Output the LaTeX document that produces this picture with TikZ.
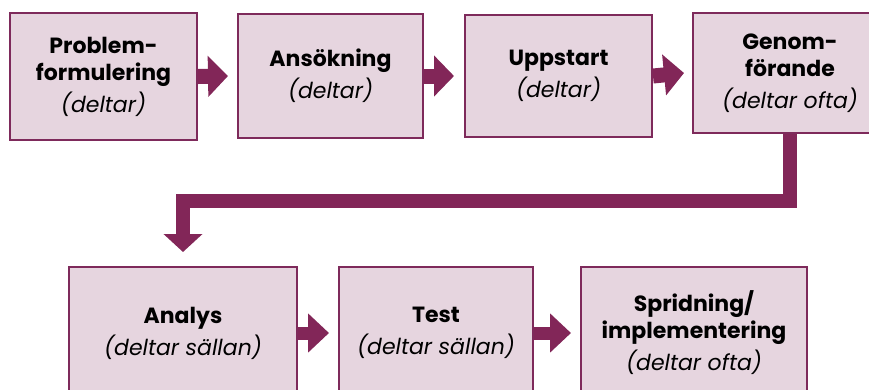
\documentclass[tikz,border=0pt]{standalone}
\usepackage{fontspec}
\setmainfont{Poppins}
\usetikzlibrary{arrows.meta}
\definecolor{boxfill}{HTML}{E6D5DF}
\definecolor{boxline}{HTML}{7E2A5B}
\definecolor{arr}{HTML}{822658}
\begin{document}
\begin{tikzpicture}[x=1pt,y=-1pt,
  stage/.style={draw=boxline, fill=boxfill, line width=2pt, align=center, inner sep=0pt,
    font=\fontsize{22}{27}\selectfont},
  flow/.style={draw=arr, line width=15pt, -{Triangle[width=40pt,length=20pt]}},
  flowb/.style={draw=arr, line width=13pt, -{Triangle[width=38pt,length=21pt]}},
]
\useasboundingbox (0,0) rectangle (869,389);
\clip (0,0) rectangle (869,389);

\node[stage, minimum width=187pt, minimum height=127pt] (b1) at (103.5,76.5)
  {\textbf{Problem-}\\\textbf{formulering}\\[5pt]\textit{(deltar)}};
\node[stage, minimum width=185pt, minimum height=124pt] (b2) at (330.5,76)
  {\textbf{Ansökning}\\[5pt]\textit{(deltar)}};
\node[stage, minimum width=187pt, minimum height=122pt] (b3) at (558.5,76)
  {\textbf{Uppstart}\\[5pt]\textit{(deltar)}};
\node[stage, minimum width=194pt, minimum height=120pt] (b4) at (790,73)
  {\textbf{Genom-}\\\textbf{förande}\\[5pt]\textit{(deltar ofta)}};
\node[stage, minimum width=228pt, minimum height=132pt] (b5) at (183,333)
  {\textbf{Analys}\\[5pt]\textit{(deltar sällan)}};
\node[stage, minimum width=194pt, minimum height=132pt] (b6) at (436,333)
  {\textbf{Test}\\[5pt]\textit{(deltar sällan)}};
\node[stage, minimum width=226pt, minimum height=132pt] (b7) at (694,333)
  {\textbf{Spridning/}\\\textbf{implementering}\\[5pt]\textit{(deltar ofta)}};

\draw[flow] (b1.east) -- ([xshift=-9pt]b2.west);
\draw[flow] (b2.east) -- ([xshift=-10pt]b3.west);
\draw[flow] (b3.east) -- ([xshift=-8pt]b4.west);
\draw[flowb] (b5.east) -- ([xshift=-9pt]b6.west);
\draw[flowb] (b6.east) -- ([xshift=-9pt]b7.west);
\draw[draw=arr, line width=14pt, -{Triangle[width=38pt,length=18pt]}]
  (b4.south) -- ++(0,67) -| ([yshift=14pt]b5.north);
\end{tikzpicture}
\end{document}
